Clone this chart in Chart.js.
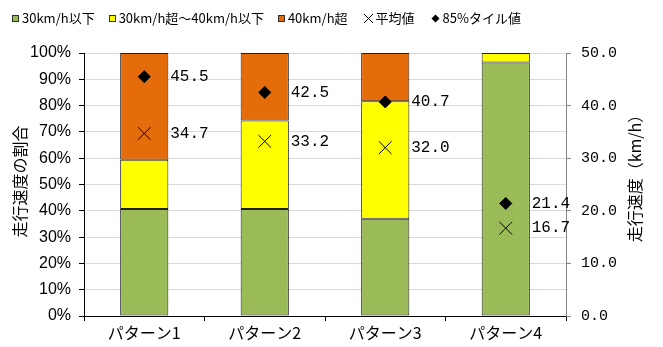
<!DOCTYPE html>
<html>
<head>
<meta charset="utf-8">
<script src="https://cdn.jsdelivr.net/npm/chart.js@4/dist/chart.umd.min.js"></script>
<style>
  html, body { margin: 0; padding: 0; background: #fff; }
  #wrap { position: relative; width: 663px; height: 347px; }
  #chart { position: absolute; left: 0; top: 0; }
  #legend {
    position: absolute; left: 12px; top: 8px; display: flex; gap: 14px;
    font-family: "Noto Sans CJK JP", sans-serif; font-size: 13px; color: #000;
    line-height: 20px; white-space: nowrap; z-index: 2;
  }
  #legend .item { display: flex; align-items: center; }
  #legend .box { width: 5px; height: 5px; border: 1px solid #303030; margin-right: 3px; }
  #legend svg { margin-right: 1px; }
</style>
</head>
<body>
<div id="wrap">
  <canvas id="chart" width="663" height="347"></canvas>
  <div id="legend"></div>
</div>
<script>
// Categories and series
const categories = ['パターン1', 'パターン2', 'パターン3', 'パターン4'];
const shareUpTo30 = [40.7, 40.7, 37.0, 96.4];   // 30km/h以下 (%)
const share30to40 = [18.7, 33.6, 44.7, 3.6];    // 30km/h超〜40km/h以下 (%)
const shareOver40 = [40.6, 25.7, 18.3, 0];      // 40km/h超 (%)
const meanSpeed = [34.7, 33.2, 32.0, 16.7];     // 平均値 (km/h)
const speed85th = [45.5, 42.5, 40.7, 21.4];     // 85%タイル値 (km/h)

const seriesNames = ['30km/h以下', '30km/h超～40km/h以下', '40km/h超', '平均値', '85%タイル値'];
const leftAxisTitle = '走行速度の割合';
const rightAxisTitle = '走行速度（km/h）';

const GREEN = '#9BBB59', YELLOW = '#FFFF00', ORANGE = '#E46C0A';
const NUM_FONT = '"Liberation Mono", "DejaVu Sans Mono", monospace';
const JP_FONT = '"Noto Sans CJK JP", sans-serif';

// Point value labels, drawn to the right of each marker
const valueLabels = {
  id: 'valueLabels',
  afterDatasetsDraw(chart) {
    const ctx = chart.ctx;
    ctx.save();
    ctx.font = '16px ' + NUM_FONT;
    ctx.fillStyle = '#000';
    ctx.textAlign = 'left';
    ctx.textBaseline = 'middle';
    chart.data.datasets.forEach((ds, i) => {
      if (ds.type !== 'line') return;
      chart.getDatasetMeta(i).data.forEach((pt, j) => {
        ctx.fillText(ds.data[j].toFixed(1), pt.x + 26, pt.y);
      });
    });
    ctx.restore();
  }
};

// Vertical axis titles (both read bottom-to-top)
const axisTitles = {
  id: 'axisTitles',
  afterDraw(chart) {
    const ctx = chart.ctx;
    const a = chart.chartArea;
    const cy = (a.top + a.bottom) / 2;
    ctx.save();
    ctx.font = '16px ' + JP_FONT;
    ctx.fillStyle = '#000';
    ctx.textAlign = 'center';
    ctx.textBaseline = 'middle';
    [[20, cy - 3, leftAxisTitle], [635, cy - 10, rightAxisTitle]].forEach(([x, y, t]) => {
      ctx.save();
      ctx.translate(x, y);
      ctx.rotate(-Math.PI / 2);
      ctx.fillText(t, 0, 0);
      ctx.restore();
    });
    ctx.restore();
  }
};

const barStyle = { borderColor: '#202020', borderWidth: 1, borderSkipped: false,
                   categoryPercentage: 1.0, barPercentage: 0.4, order: 2, yAxisID: 'y' };

const chart = new Chart(document.getElementById('chart'), {
  type: 'bar',
  data: {
    labels: categories,
    datasets: [
      Object.assign({ label: seriesNames[0], data: shareUpTo30, backgroundColor: GREEN }, barStyle),
      Object.assign({ label: seriesNames[1], data: share30to40, backgroundColor: YELLOW }, barStyle),
      Object.assign({ label: seriesNames[2], data: shareOver40, backgroundColor: ORANGE }, barStyle),
      { type: 'line', label: seriesNames[3], data: meanSpeed, yAxisID: 'y1', showLine: false,
        pointStyle: 'crossRot', pointRadius: 9, pointBorderColor: '#000', pointBorderWidth: 1,
        pointBackgroundColor: '#000', order: 0 },
      { type: 'line', label: seriesNames[4], data: speed85th, yAxisID: 'y1', showLine: false,
        pointStyle: 'rectRot', pointRadius: 6, pointBorderColor: '#000', pointBorderWidth: 1,
        pointBackgroundColor: '#000', order: 0 }
    ]
  },
  options: {
    responsive: false,
    animation: false,
    devicePixelRatio: 1,
    layout: { padding: { top: 53, left: 0, right: 0, bottom: 0 } },
    plugins: { legend: { display: false }, tooltip: { enabled: false } },
    scales: {
      x: {
        stacked: true,
        afterFit(s) { s.height = 31; },
        grid: { offset: true, drawOnChartArea: false, drawTicks: true, tickLength: 5, tickColor: '#000' },
        border: { color: '#000', width: 1 },
        ticks: { color: '#000', font: { family: JP_FONT, size: 16 }, padding: 2, maxRotation: 0 }
      },
      y: {
        stacked: true, position: 'left', min: 0, max: 100,
        afterFit(s) { s.width = 84; },
        grid: { color: '#D9D9D9', lineWidth: 1, tickLength: 5, tickColor: '#000' },
        border: { color: '#000', width: 1 },
        ticks: { stepSize: 10, color: '#000', padding: 8,
                 font: { family: '"Liberation Sans Narrow", "Liberation Sans", sans-serif', size: 16 },
                 callback: v => v + '%' }
      },
      y1: {
        position: 'right', min: 0, max: 50,
        afterFit(s) { s.width = 97; },
        grid: { drawOnChartArea: false, tickLength: 5, tickColor: '#868686' },
        border: { color: '#868686', width: 1 },
        ticks: { stepSize: 10, color: '#000', padding: 10,
                 font: { family: NUM_FONT, size: 15 },
                 callback: v => v.toFixed(1) }
      }
    }
  },
  plugins: [valueLabels, axisTitles]
});

// Legend built from the chart's datasets
const legend = document.getElementById('legend');
chart.data.datasets.forEach(ds => {
  const item = document.createElement('div');
  item.className = 'item';
  let icon;
  if (ds.type === 'line') {
    const ns = 'http://www.w3.org/2000/svg';
    icon = document.createElementNS(ns, 'svg');
    icon.setAttribute('width', '13'); icon.setAttribute('height', '13');
    icon.innerHTML = ds.pointStyle === 'crossRot'
      ? '<path d="M2 2 L11 11 M11 2 L2 11" stroke="#000" stroke-width="1" fill="none"/>'
      : '<path d="M6.5 2.5 L10.5 6.5 L6.5 10.5 L2.5 6.5 Z" fill="#000"/>';
  } else {
    icon = document.createElement('span');
    icon.className = 'box';
    icon.style.background = ds.backgroundColor;
  }
  const txt = document.createElement('span');
  txt.textContent = ds.label;
  item.appendChild(icon);
  item.appendChild(txt);
  legend.appendChild(item);
});
</script>
</body>
</html>
